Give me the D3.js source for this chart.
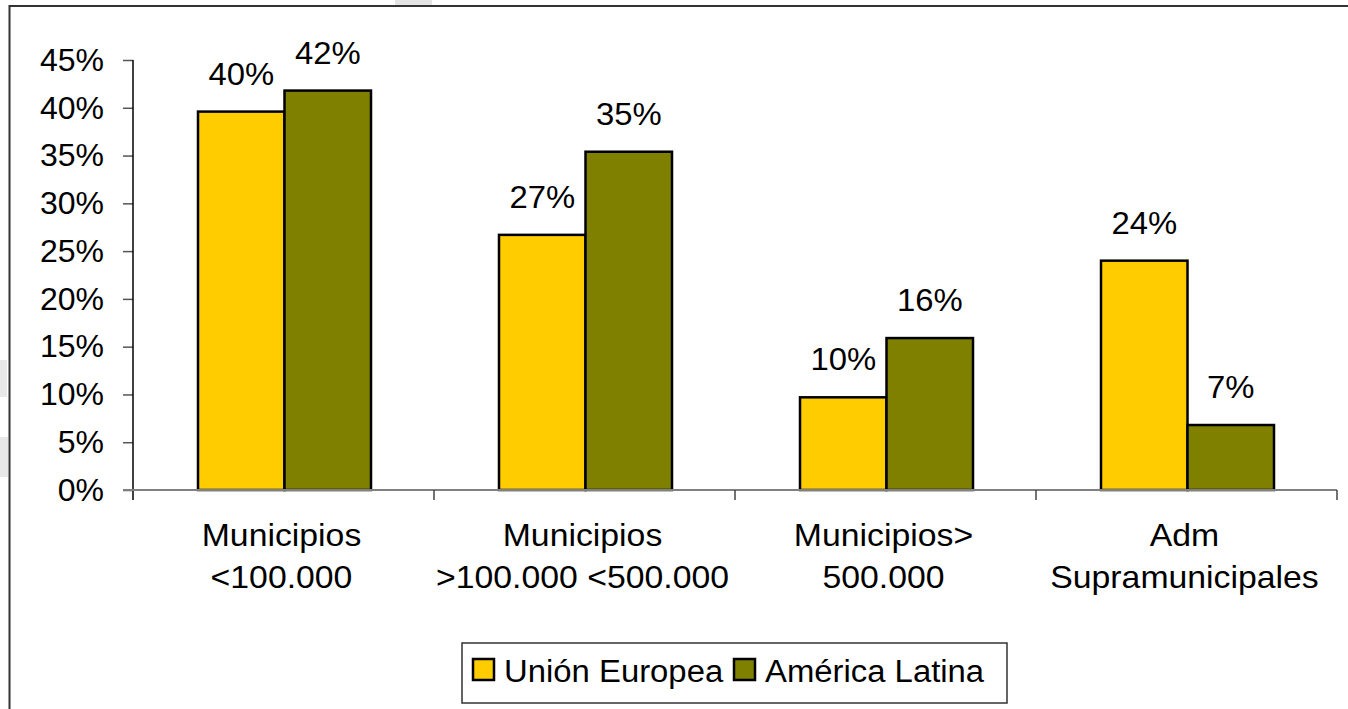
<!DOCTYPE html>
<html>
<head>
<meta charset="utf-8">
<script src="https://d3js.org/d3.v7.min.js"></script>
<style>
  body { margin: 0; background: #fff; }
  svg { display: block; font-family: "Liberation Sans", Arial, sans-serif; }
</style>
</head>
<body>
<svg id="chart"></svg>
<script>
var categories = ["Municipios\n<100.000", "Municipios\n>100.000 <500.000", "Municipios>\n500.000", "Adm\nSupramunicipales"];
var series = ["Unión Europea", "América Latina"];
var union_europea = [39.6, 26.7, 9.7, 24.0];
var america_latina = [41.8, 35.4, 15.9, 6.8];
var y_ticks = [0, 5, 10, 15, 20, 25, 30, 35, 40, 45];
var colors = ["#ffcc00", "#808000"];

var width = 1348, height = 709;
var svg = d3.select("#chart").attr("width", width).attr("height", height);

// the original text is a bit wider than Arial at the same height
var place = function(x, y, sx) {
  return "translate(" + x + "," + y + ") scale(" + sx + ",1)";
};

// chart frame and faint marks from the scan
svg.append("rect").attr("x", 395).attr("y", 0).attr("width", 37).attr("height", 5).attr("fill", "#e4e4e4");
svg.append("rect").attr("x", 0).attr("y", 360).attr("width", 7).attr("height", 37).attr("fill", "#e8e8e8");
svg.append("rect").attr("x", 0).attr("y", 437).attr("width", 8).attr("height", 40).attr("fill", "#e8e8e8");
svg.append("path")
  .attr("d", "M9.5," + (height + 5) + "V6H" + (width + 5))
  .attr("fill", "none").attr("stroke", "#333").attr("stroke-width", 2);

var x0 = d3.scaleBand().domain(categories).range([133, 1337]);
var x1 = d3.scaleBand().domain(series).range([65, 238]);
var y = d3.scaleLinear().domain([0, 45]).range([490, 60]);

var rows = categories.map(function(c, i) {
  return { cat: c, values: [union_europea[i], america_latina[i]] };
});

// bars
var groups = svg.selectAll("g.grp")
  .data(rows)
  .enter()
  .append("g")
  .attr("class", "grp")
  .attr("transform", function(d) { return "translate(" + x0(d.cat) + ",0)"; });

groups.selectAll("rect")
  .data(function(d) { return d.values.map(function(v, j) { return { s: series[j], v: v, j: j }; }); })
  .enter()
  .append("rect")
  .attr("x", function(d) { return x1(d.s); })
  .attr("y", function(d) { return y(d.v); })
  .attr("width", x1.bandwidth())
  .attr("height", function(d) { return y(0) - y(d.v); })
  .attr("fill", function(d) { return colors[d.j]; })
  .attr("stroke", "#000")
  .attr("stroke-width", 2.5);

groups.selectAll("text.val")
  .data(function(d) { return d.values.map(function(v, j) { return { s: series[j], v: v }; }); })
  .enter()
  .append("text")
  .attr("class", "val")
  .attr("transform", function(d) { return place(x1(d.s) + x1.bandwidth() / 2, y(d.v) - 27, 1.06); })
  .attr("text-anchor", "middle")
  .attr("font-size", 31)
  .text(function(d) { return Math.round(d.v) + "%"; });

// y axis
var yAxis = svg.append("g")
  .attr("transform", "translate(133,0)")
  .call(d3.axisLeft(y).tickValues(y_ticks).tickSize(10).tickPadding(19)
    .tickFormat(function(d) { return d + "%"; }));
yAxis.select(".domain").remove();
yAxis.selectAll(".tick line").attr("stroke", "#555").attr("stroke-width", 1.5);
yAxis.selectAll(".tick text").attr("font-size", 32).attr("font-family", "Liberation Sans, Arial, sans-serif").attr("fill", "#000");
svg.append("line").attr("x1", 133).attr("x2", 133).attr("y1", y(45)).attr("y2", y(0) + 10)
  .attr("stroke", "#000").attr("stroke-width", 1.5);

// x axis
var xAxis = svg.append("g")
  .attr("transform", "translate(0," + y(0) + ")")
  .call(d3.axisBottom(x0).tickSize(0).tickFormat(""));
xAxis.select(".domain").attr("stroke", "#808080").attr("stroke-width", 2)
  .attr("d", "M123,0H" + x0.range()[1]);
svg.selectAll("line.xtick")
  .data(categories)
  .enter()
  .append("line")
  .attr("class", "xtick")
  .attr("x1", function(d) { return x0(d) + x0.bandwidth(); })
  .attr("x2", function(d) { return x0(d) + x0.bandwidth(); })
  .attr("y1", y(0))
  .attr("y2", y(0) + 10)
  .attr("stroke", "#444")
  .attr("stroke-width", 1.5);

var catLabels = svg.selectAll("text.cat")
  .data(categories)
  .enter()
  .append("text")
  .attr("class", "cat")
  .attr("text-anchor", "middle")
  .attr("font-size", 31)
  .attr("transform", function(d) { return place(x0(d) + x0.bandwidth() / 2 - 2, 546, 1.09); });
catLabels.selectAll("tspan")
  .data(function(d) { return d.split("\n"); })
  .enter()
  .append("tspan")
  .attr("x", 0)
  .attr("dy", function(d, i) { return i === 0 ? 0 : 42; })
  .text(function(d) { return d; });

// legend
var legend = svg.append("g");
legend.append("rect")
  .attr("x", 462).attr("y", 643).attr("width", 545).attr("height", 60)
  .attr("fill", "#fff").attr("stroke", "#333").attr("stroke-width", 1.5);
var legendX = [473, 734];
series.forEach(function(s, i) {
  legend.append("rect")
    .attr("x", legendX[i]).attr("y", 659).attr("width", 21).attr("height", 21)
    .attr("fill", colors[i]).attr("stroke", "#000").attr("stroke-width", 2.5);
  legend.append("text")
    .attr("transform", place(legendX[i] + 31, 682, 1.06))
    .attr("font-size", 31)
    .text(s);
});
</script>
</body>
</html>
